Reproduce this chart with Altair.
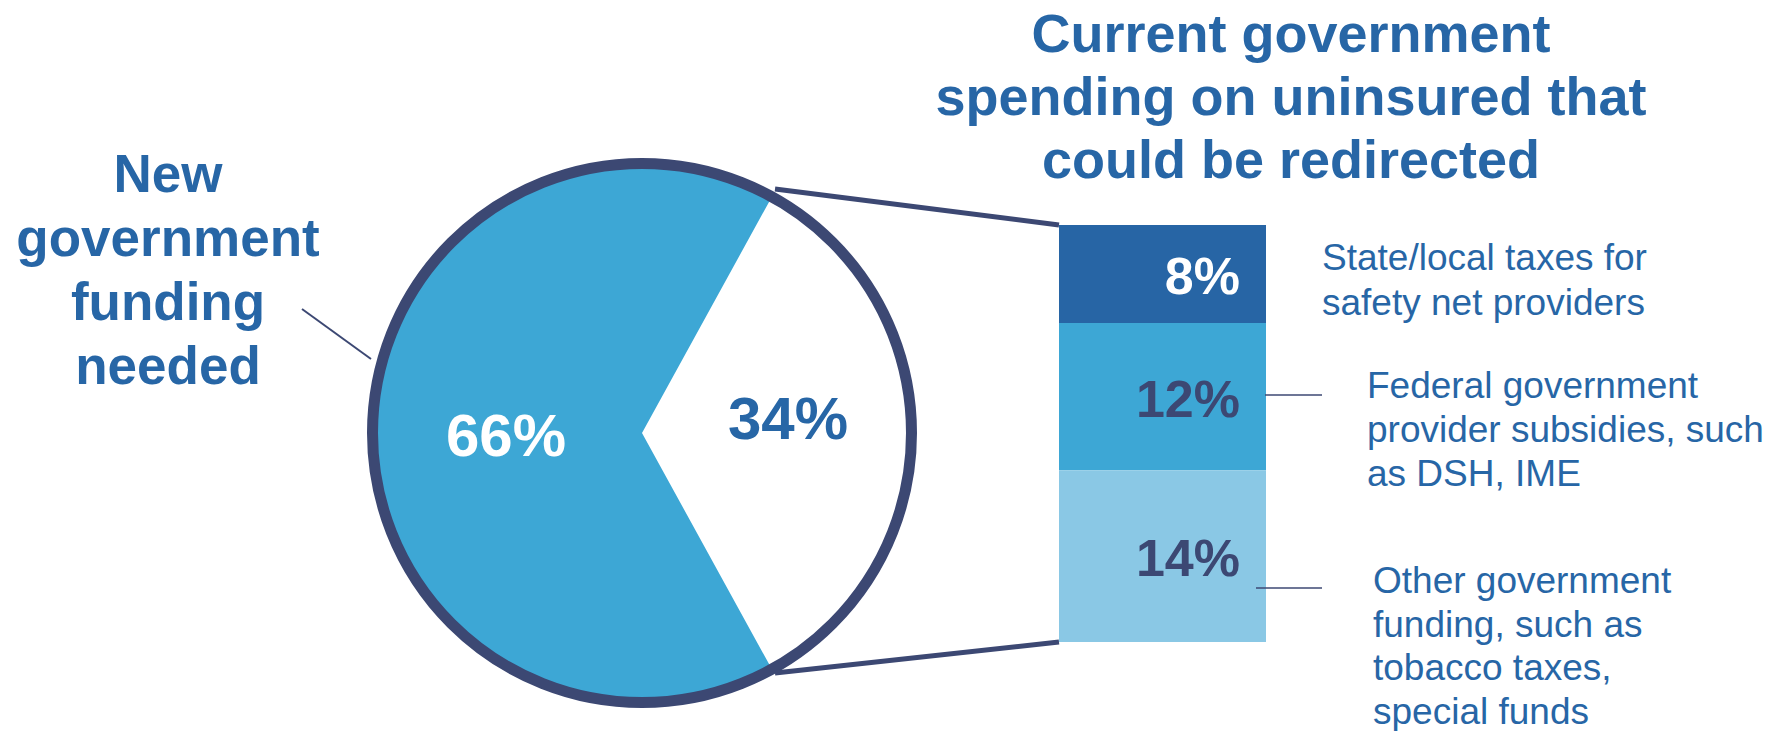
import math
import altair as alt
import pandas as pd

# ---------------- data ----------------
pie_parts = ["Current spending that could be redirected", "New government funding needed"]
pie_values = [34, 66]
pie_labels = ["34%", "66%"]

seg_names = ["State/local taxes", "Federal provider subsidies", "Other government funding"]  # top to bottom
seg_values = [8, 12, 14]
seg_labels = ["8%", "12%", "14%"]

title_lines = ["Current government", "spending on uninsured that", "could be redirected"]
left_lines = ["New", "government", "funding", "needed"]
desc_state = ["State/local taxes for", "safety net providers"]
desc_federal = ["Federal government", "provider subsidies, such", "as DSH, IME"]
desc_other = ["Other government", "funding, such as", "tobacco taxes,", "special funds"]

# ---------------- styles ----------------
FONT = "Liberation Sans"
TEXT_BLUE = "#2766A6"
NAVY = "#3C4873"
PIE_COLORS = ["#FFFFFF", "#3DA7D5"]
PIE_LABEL_COLORS = [TEXT_BLUE, "#FFFFFF"]
SEG_COLORS = ["#2765A5", "#3DA7D5", "#8AC8E5"]
SEG_LABEL_COLORS = ["#FFFFFF", NAVY, NAVY]

CX, CY = 642, 433

# ---------------- tables ----------------
pie_df = pd.DataFrame({
    "part": pie_parts,
    "value": pie_values,
    "label": pie_labels,
    "order": list(range(len(pie_parts))),
    "fill": PIE_COLORS,
    "tfill": PIE_LABEL_COLORS,
})
total = sum(pie_values)
start = math.pi / 2 - math.pi * pie_values[0] / total
theta_scale = alt.Scale(range=[start, start + 2 * math.pi])

# stack the bar segments from the bottom up (list is top to bottom)
ends, starts, acc = [], [], 0
for v in reversed(seg_values):
    starts.append(acc)
    acc += v
    ends.append(acc)
starts = list(reversed(starts))
ends = list(reversed(ends))
bar_df = pd.DataFrame({
    "name": seg_names,
    "value": seg_values,
    "label": seg_labels,
    "start": starts,
    "end": ends,
    "mid": [(a + b) / 2 for a, b in zip(starts, ends)],
    "fill": SEG_COLORS,
    "tfill": SEG_LABEL_COLORS,
})
y_scale = alt.Scale(domain=[0, sum(seg_values)], range=[642, 225], nice=False, zero=True)

one = pd.DataFrame({"k": [0]})

# ---------------- layers ----------------
pie = alt.Chart(pie_df).mark_arc(outerRadius=266, strokeWidth=0).encode(
    theta=alt.Theta("value:Q", stack=True, scale=theta_scale),
    order=alt.Order("order:Q"),
    fill=alt.Fill("fill:N", scale=None),
    x=alt.value(CX), y=alt.value(CY),
)

def pie_label(idx, dx, dy):
    return alt.Chart(pie_df).mark_text(
        radius=141, font=FONT, fontSize=60, fontWeight="bold", baseline="middle",
        align="center", dx=dx, dy=dy,
    ).encode(
        theta=alt.Theta("value:Q", stack=True, scale=theta_scale),
        order=alt.Order("order:Q"),
        text=alt.condition(alt.datum.order == idx, "label:N", alt.value("")),
        fill=alt.Fill("tfill:N", scale=None),
        x=alt.value(CX), y=alt.value(CY),
    )

pie_text_small = pie_label(0, 5, -12)
pie_text_big = pie_label(1, 5, 5)

ring = alt.Chart(one).mark_point(
    shape="circle", filled=False, size=(2 * 269.5) ** 2, strokeWidth=11, color=NAVY, opacity=1
).encode(x=alt.value(CX), y=alt.value(CY))

def rule(x1, y1, x2, y2, w):
    return alt.Chart(one).mark_rule(color=NAVY, strokeWidth=w, strokeCap="butt").encode(
        x=alt.value(x1), y=alt.value(y1), x2=alt.value(x2), y2=alt.value(y2)
    )

zoom_top = rule(775, 189, 1059, 225, 5)
zoom_bot = rule(775, 673, 1059, 642, 5)
lead_left = rule(302, 309, 371, 359, 2)
lead_12 = rule(1265, 395, 1322, 395, 1.5)
lead_14 = rule(1256, 588, 1322, 588, 1.5)

bar = alt.Chart(bar_df).mark_bar(strokeWidth=0).encode(
    x=alt.value(1059), x2=alt.value(1266),
    y=alt.Y("start:Q", scale=y_scale, axis=None),
    y2="end:Q",
    fill=alt.Fill("fill:N", scale=None),
)

bar_text = alt.Chart(bar_df).mark_text(
    font=FONT, fontSize=52, fontWeight="bold", align="right", baseline="middle", dy=4
).encode(
    x=alt.value(1240),
    y=alt.Y("mid:Q", scale=y_scale, axis=None),
    text="label:N",
    fill=alt.Fill("tfill:N", scale=None),
)

def block(lines, x, y, size, lh, bold, align):
    return alt.Chart(one).mark_text(
        text=lines, font=FONT, fontSize=size, fontWeight="bold" if bold else "normal",
        lineHeight=lh, align=align, baseline="alphabetic", color=TEXT_BLUE,
    ).encode(x=alt.value(x), y=alt.value(y))

title = block(title_lines, 1291, 52, 54, 63, True, "center")
left = block(left_lines, 168, 192, 53, 64, True, "center")
d1 = block(desc_state, 1322, 270, 37, 45, False, "left")
d2 = block(desc_federal, 1367, 398, 37, 44, False, "left")
d3 = block(desc_other, 1373, 593, 37, 43.5, False, "left")

chart = alt.layer(
    pie, ring, zoom_top, zoom_bot, lead_left, pie_text_small, pie_text_big,
    bar, bar_text, lead_12, lead_14,
    title, left, d1, d2, d3,
).properties(
    width=1782, height=731, padding=0, autosize="none", background="white"
).configure_view(stroke=None)

chart.save("out.html", embed_options={"renderer": "svg", "actions": False})
